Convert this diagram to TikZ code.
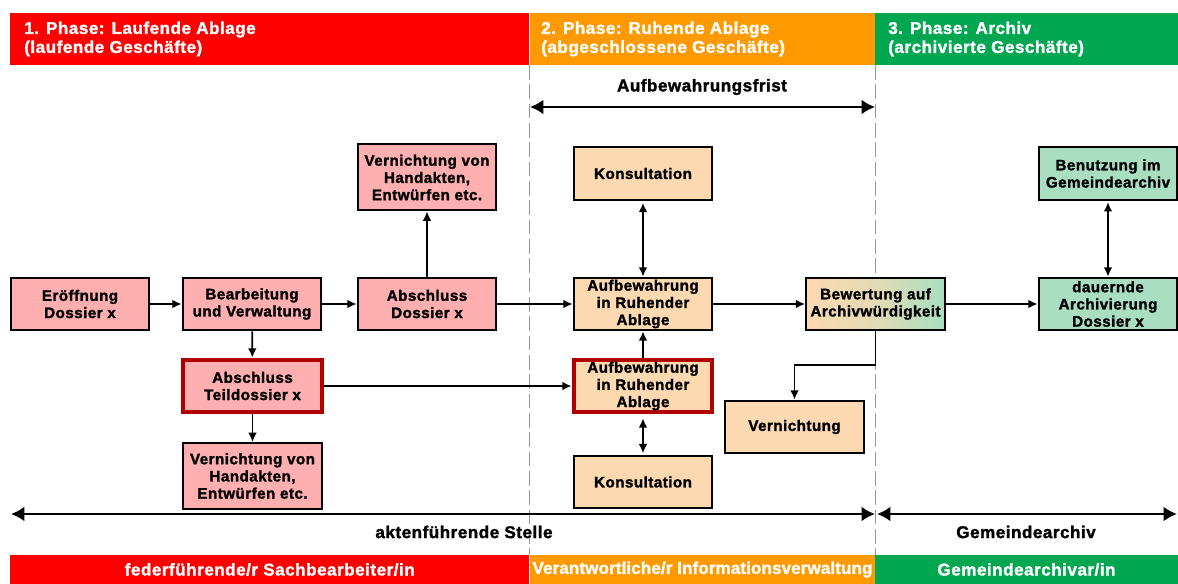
\documentclass[tikz,border=0pt]{standalone}
\usepackage{fontspec}
\setmainfont{Liberation Sans}[BoldFeatures={FakeBold=1.6}]
\usetikzlibrary{arrows.meta}
\definecolor{cred}{HTML}{FF0000}
\definecolor{corange}{HTML}{FF9900}
\definecolor{cgreen}{HTML}{00A650}
\definecolor{lred}{HTML}{FFAFAF}
\definecolor{lorange}{HTML}{FCD9B0}
\definecolor{lgreen}{HTML}{A9DEC1}
\definecolor{dred}{HTML}{B00000}
\newcommand{\boxfont}{\bfseries\fontsize{11.4}{12.9}\selectfont\addfontfeature{LetterSpace=3}}
\newcommand{\bigfont}{\bfseries\fontsize{12.8}{14.2}\selectfont\addfontfeature{LetterSpace=3}}
\tikzset{
  txt/.style={font=\boxfont,align=center,inner sep=0pt,text=black},
  bx/.style={txt,draw=black,line width=1.5pt,minimum width=104pt,minimum height=39.5pt},
  pinkbox/.style={bx,fill=lred},
  peachbox/.style={bx,fill=lorange},
  greenbox/.style={bx,fill=lgreen},
  redframe/.style={draw=dred,line width=3pt},
  gradbox/.style={bx,left color=lorange,right color=lgreen,middle color=lorange!70!lgreen},
  bar/.style={font=\bigfont,text=white,inner sep=0pt,minimum height=39.5pt},
  footbar/.style={font=\bigfont,text=white,inner sep=0pt,minimum height=21.75pt},
  phasetext/.style={align=left,anchor=west},
  sep/.style={draw=black!40,line width=1.4pt,dash pattern=on 11pt off 3.5pt},
  conn/.style={draw=black,line width=1.3pt,-{Latex[length=7pt,width=6.5pt]}},
  connboth/.style={draw=black,line width=1.3pt,{Latex[length=7pt,width=6.5pt]}-{Latex[length=7pt,width=6.5pt]}},
  span/.style={draw=black,line width=1.6pt,{Latex[length=10pt,width=11pt]}-{Latex[length=10pt,width=11pt]}},
  lbl/.style={font=\bigfont,inner sep=0pt}
}
\begin{document}
\begin{tikzpicture}[x=0.75pt,y=-0.75pt]
\useasboundingbox[fill=white] (0,0) rectangle (1178,584);
% separators
\coordinate (s1t) at (529.5,65); \coordinate (s1b) at (529.5,555);
\coordinate (s2t) at (875.5,65); \coordinate (s2b) at (875.5,555);
\draw[sep] (s1t) -- (s1b);
\draw[sep] (s2t) -- (s2b);
% top bars
\node[bar,fill=cred,minimum width=389.25pt] (b1) at (269.75,39) {};
\node[bar,fill=corange,minimum width=259.5pt] (b2) at (702.5,39) {};
\node[bar,fill=cgreen,minimum width=227.25pt] (b3) at (1026.5,39) {};
\node[bar,phasetext] (t1) at (24,39) {1. Phase: Laufende Ablage\\(laufende Geschäfte)};
\node[bar,phasetext] (t2) at (541,39) {2. Phase: Ruhende Ablage\\(abgeschlossene Geschäfte)};
\node[bar,phasetext] (t3) at (888,39) {3. Phase: Archiv\\(archivierte Geschäfte)};
% footer
\node[footbar,fill=cred,minimum width=389.25pt] (f1) at (269.75,569.5) {federführende/r Sachbearbeiter/in};
\node[footbar,fill=corange,minimum width=259.5pt] (f2) at (702.5,569.5) {\addfontfeature{LetterSpace=0.5}Verantwortliche/r Informationsverwaltung};
\node[footbar,fill=cgreen,minimum width=227.25pt] (f3) at (1026.5,569.5) {Gemeindearchivar/in};
% boxes
\node[pinkbox] (eroeff) at (80,304) {Eröffnung\\Dossier x};
\node[pinkbox] (bearb) at (252,304) {Bearbeitung\\und Verwaltung};
\node[pinkbox] (absd) at (427,304) {Abschluss\\Dossier x};
\node[pinkbox,minimum height=49.5pt] (vern1) at (427,177.5) {Vernichtung von\\Handakten,\\Entwürfen etc.};
\node[pinkbox,redframe] (abst) at (252.5,386) {Abschluss\\Teildossier x};
\node[pinkbox,minimum height=49.5pt] (vern2) at (252.5,476) {Vernichtung von\\Handakten,\\Entwürfen etc.};
\node[peachbox] (kons1) at (643,173.5) {Konsultation};
\node[peachbox] (aufb1) at (643,304) {Aufbewahrung\\in Ruhender\\Ablage};
\node[peachbox,redframe] (aufb2) at (643,386) {Aufbewahrung\\in Ruhender\\Ablage};
\node[peachbox] (kons2) at (643,482) {Konsultation};
\node[peachbox] (vern3) at (794.5,427) {Vernichtung};
\node[gradbox] (bew) at (875.5,304) {Bewertung auf\\Archivwürdigkeit};
\node[greenbox] (dauer) at (1108,304) {dauernde\\Archivierung\\Dossier x};
\node[greenbox] (benu) at (1108,173.5) {Benutzung im\\Gemeindearchiv};
% connectors
\draw[conn] (eroeff) -- (bearb);
\draw[conn] (bearb) -- (absd);
\draw[conn] (absd) -- (aufb1);
\draw[conn] (absd) -- (vern1);
\draw[conn] (bearb) -- (abst);
\draw[conn] (abst) -- (vern2);
\draw[conn] (abst) -- (aufb2);
\draw[conn] (aufb2) -- (aufb1);
\draw[connboth,shorten <=1.5pt] (kons1) -- (aufb1);
\draw[connboth,shorten <=3pt,shorten >=1pt] (aufb2) -- (kons2);
\draw[conn] (aufb1) -- (bew);
\draw[conn] (bew) -- (dauer);
\draw[connboth,shorten <=1pt] (benu) -- (dauer);
\draw[conn] (bew.south) |- (794.5,365) -- (vern3.north);
% spans
\coordinate (a1) at (530,107); \coordinate (a2) at (875,107);
\draw[span] (a1) -- (a2);
\node[lbl] (frist) at (702,87) {Aufbewahrungsfrist};
\coordinate (c1) at (11,514); \coordinate (c2) at (875,514);
\coordinate (c3) at (877,514); \coordinate (c4) at (1177,514);
\draw[span] (c1) -- (c2);
\draw[span] (c3) -- (c4);
\node[lbl] (akten) at (464,532) {aktenführende Stelle};
\node[lbl] (gem) at (1026,532) {Gemeindearchiv};
\end{tikzpicture}
\end{document}
